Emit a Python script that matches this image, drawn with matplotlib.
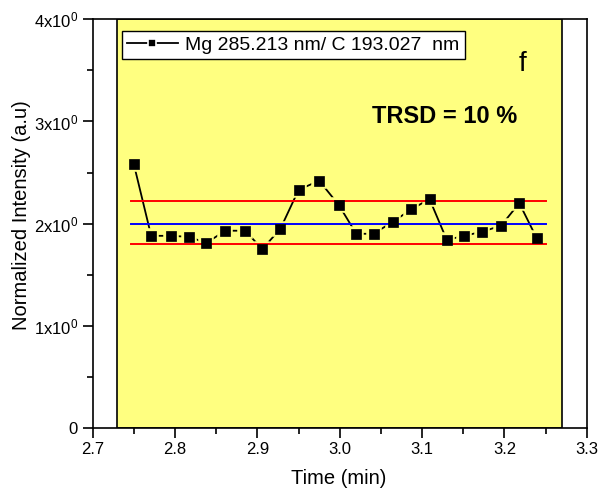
import numpy as np
import matplotlib.pyplot as plt
from matplotlib.ticker import MultipleLocator, FixedLocator

plt.rcParams['font.family'] = ['Liberation Sans', 'DejaVu Sans']
plt.rcParams['mathtext.fontset'] = 'custom'
plt.rcParams['mathtext.rm'] = 'Liberation Sans'
plt.rcParams['mathtext.it'] = 'Liberation Sans'

# Mg 285.213 nm / C 193.027 nm ratio vs time
time = [2.750, 2.771, 2.795, 2.817, 2.838, 2.861, 2.885, 2.906, 2.928, 2.950, 2.975, 2.999,
        3.020, 3.041, 3.065, 3.087, 3.109, 3.130, 3.151, 3.173, 3.196, 3.218, 3.239]
intensity = [2.58, 1.88, 1.88, 1.87, 1.81, 1.93, 1.93, 1.75, 1.95, 2.33, 2.42, 2.18,
             1.90, 1.90, 2.02, 2.14, 2.24, 1.84, 1.88, 1.92, 1.98, 2.20, 1.86]
mean_level = 2.0
limits = [1.80, 2.22]
line_span = [2.746, 3.251]
shade_span = [2.73, 3.27]
xticks = [2.7, 2.8, 2.9, 3.0, 3.1, 3.2, 3.3]
yticks = [0, 1, 2, 3, 4]
ylabels = ['0', r'1x10$^{0}$', r'2x10$^{0}$', r'3x10$^{0}$', r'4x10$^{0}$']

fig = plt.figure(figsize=(6, 4.9), dpi=100)
ax = fig.add_axes([0.1545, 0.127, 0.8235, 0.8335])

yellow = '#ffff80'
ax.axvspan(shade_span[0], shade_span[1], facecolor=yellow, edgecolor='black', linewidth=1.2, zorder=0)

# connecting line with a small gap around each symbol
ax.plot(time, intensity, color='black', linewidth=1.3, marker='s', markersize=7,
        markerfacecolor=yellow, markeredgecolor=yellow, markeredgewidth=4, zorder=1)

ax.plot(line_span, [mean_level, mean_level], color='#0000ff', linewidth=1.4, zorder=2)
for lim in limits:
    ax.plot(line_span, [lim, lim], color='#ff0000', linewidth=1.4, zorder=2)

ax.plot(time, intensity, linestyle='none', marker='s', markersize=7,
        markerfacecolor='black', markeredgecolor='black', markeredgewidth=0.5, zorder=3)

# legend handle
h, = ax.plot([], [], color='black', linewidth=1.3, marker='s', markersize=6,
             markerfacecolor='black', markeredgecolor='white', markeredgewidth=1.2)
leg = ax.legend([h], ['Mg 285.213 nm/ C 193.027  nm'], loc='upper left',
                bbox_to_anchor=(0.052, 0.98), fontsize=14, frameon=True, fancybox=False,
                framealpha=1, edgecolor='black', handlelength=2.6, handletextpad=0.4,
                borderpad=0.25, borderaxespad=0.2)
leg.get_frame().set_linewidth(1.0)

ax.text(3.222, 3.56, 'f', fontsize=20, ha='center', va='center')
ax.text(3.127, 3.05, 'TRSD = 10 %', fontsize=17, fontweight='bold', ha='center', va='center')

ax.set_xlim(2.7, 3.3)
ax.set_ylim(0, 4)
ax.xaxis.set_major_locator(FixedLocator(xticks))
ax.xaxis.set_minor_locator(MultipleLocator(0.05))
ax.yaxis.set_major_locator(FixedLocator(yticks))
ax.yaxis.set_minor_locator(MultipleLocator(0.5))
ax.set_xticklabels(['%.1f' % v for v in xticks])
ax.set_yticklabels(ylabels)
ax.tick_params(which='major', direction='out', length=7, width=1.2, labelsize=12)
ax.tick_params(which='minor', direction='out', length=4, width=1.2)
for s in ax.spines.values():
    s.set_linewidth(1.2)

ax.set_xlabel('Time (min)', fontsize=14.5)
ax.set_ylabel('Normalized Intensity (a.u)', fontsize=14.5)
ax.xaxis.set_label_coords(0.497, -0.101)
ax.yaxis.set_label_coords(-0.124, 0.521)

fig.savefig('out.png', dpi=100)
